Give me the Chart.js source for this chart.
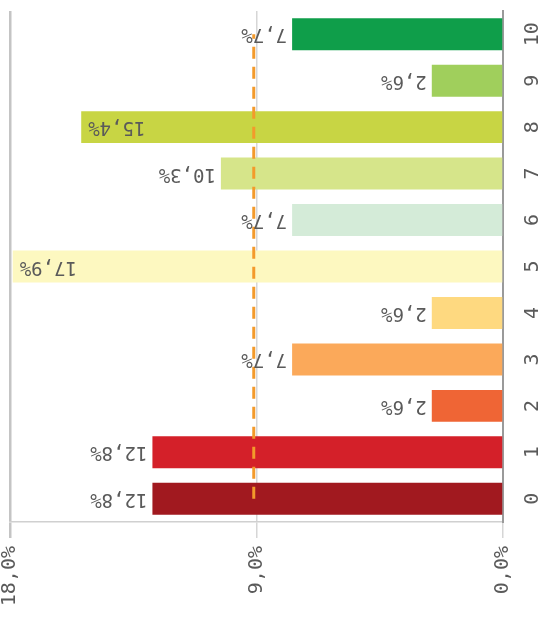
<!DOCTYPE html>
<html>
<head>
<meta charset="utf-8">
<script src="https://cdn.jsdelivr.net/npm/chart.js@4.4.1/dist/chart.umd.min.js"></script>
<style>
	html, body { margin: 0; padding: 0; background: #fff; overflow: hidden; }
	#wrap { position: absolute; left: 0; top: -4px; width: 547px; height: 630px; }
</style>
</head>
<body>
<div id="wrap"><canvas id="chart"></canvas></div>
<script>
const categories = ["0", "1", "2", "3", "4", "5", "6", "7", "8", "9", "10"];
const shares = [12.8, 12.8, 2.6, 7.7, 2.6, 17.9, 7.7, 10.3, 15.4, 2.6, 7.7];
const average = [9.1, 9.1, 9.1, 9.1, 9.1, 9.1, 9.1, 9.1, 9.1, 9.1, 9.1];
const xTickValues = [0, 9, 18];

const barColors = [
	"#a1191f", "#d42029", "#ef6535", "#fba95a", "#fed980", "#fdf8c0",
	"#d4ebd8", "#d6e58a", "#c8d544", "#a0cf5c", "#0f9e4a",
];

const monoFont = "DejaVu Sans Mono";
const textColor = "#5a5a5a";

let fmt = (v) => v.toFixed(1).replace(".", ",") + "%";

// value labels are upside down, category labels read bottom to top
const turnedText = {
	id: "turnedText",
	afterDatasetsDraw(chart) {
		let ctx = chart.ctx;
		let area = chart.chartArea;
		let yScale = chart.scales.y;
		ctx.save();
		ctx.font = "19px '" + monoFont + "'";
		ctx.fillStyle = textColor;
		ctx.textBaseline = "middle";

		let bars = chart.getDatasetMeta(1).data;
		bars.forEach((bar, i) => {
			let txt = fmt(shares[i]);
			let w = ctx.measureText(txt).width;
			ctx.save();
			if (bar.x - 6 - w < area.left + 20) {
				ctx.translate(bar.x + 7, bar.y);
				ctx.rotate(Math.PI);
				ctx.textAlign = "right";
			} else {
				ctx.translate(bar.x - 5, bar.y);
				ctx.rotate(Math.PI);
				ctx.textAlign = "left";
			}
			ctx.fillText(txt, 0, 0);
			ctx.restore();
		});

		ctx.font = "20px '" + monoFont + "'";
		categories.forEach((c, i) => {
			ctx.save();
			ctx.translate(area.right + 30, yScale.getPixelForTick(i));
			ctx.rotate(-Math.PI / 2);
			ctx.textAlign = "center";
			ctx.fillText(c, 0, 0);
			ctx.restore();
		});
		ctx.restore();
	},
};

const config = {
	data: {
		labels: categories,
		datasets: [
			{
				type: "line",
				label: "Average",
				data: average,
				borderColor: "#f39a2b",
				borderWidth: 3,
				borderDash: [12, 8],
				pointRadius: 0,
				fill: false,
				order: 1,
			},
			{
				type: "bar",
				label: "Share",
				data: shares,
				backgroundColor: barColors,
				barPercentage: 0.86,
				categoryPercentage: 0.8,
				order: 2,
			},
		],
	},
	options: {
		indexAxis: "y",
		responsive: true,
		maintainAspectRatio: false,
		animation: false,
		layout: { padding: { left: 10, right: 0, top: 0, bottom: 0 } },
		plugins: {
			legend: { display: false },
			tooltip: { enabled: false },
		},
		scales: {
			x: {
				type: "linear",
				position: "bottom",
				reverse: true,
				min: 0,
				max: 18,
				afterBuildTicks: (scale) => {
					scale.ticks = xTickValues.map((v) => ({ value: v }));
				},
				afterFit: (scale) => {
					scale.height = 104;
				},
				ticks: {
					minRotation: 90,
					maxRotation: 90,
					padding: 8,
					color: textColor,
					font: { family: monoFont, size: 20 },
					callback: (v) => fmt(v),
				},
				grid: {
					color: (c) => (c.tick && c.tick.value === 18 ? "#c4c4c4" : "#d6d6d6"),
					lineWidth: (c) => (c.tick && c.tick.value === 18 ? 2.5 : 1.5),
					tickLength: 16,
				},
				border: { color: "#d0d0d0", width: 1.5 },
			},
			y: {
				type: "category",
				position: "right",
				reverse: true,
				afterFit: (scale) => {
					scale.width = 44;
				},
				ticks: { color: "transparent", font: { family: monoFont, size: 20 } },
				grid: { display: false },
				border: { color: "#9a9a9a", width: 2 },
			},
		},
	},
	plugins: [turnedText],
};

const chart = new Chart(document.getElementById("chart"), config);
</script>
</body>
</html>
